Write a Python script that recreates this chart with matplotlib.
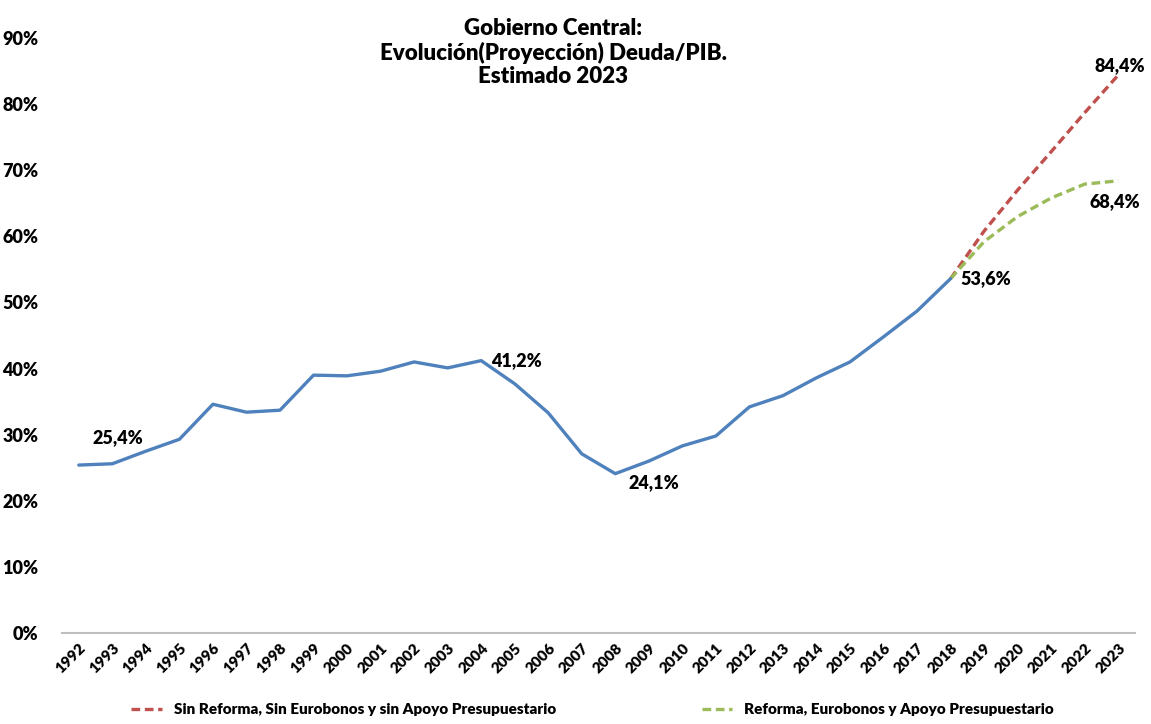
import numpy as np
import matplotlib
matplotlib.use('Agg')
import matplotlib.pyplot as plt
from matplotlib.ticker import FuncFormatter

plt.rcParams['font.family'] = ['Lato', 'DejaVu Sans']

# Historical debt / GDP (%)
years = [str(y) for y in range(1992, 2024)]
hist_years = list(range(1992, 2019))
hist = [25.4, 25.6, 27.5, 29.3, 34.6, 33.4, 33.7, 39.0, 38.9, 39.6, 41.0, 40.1,
        41.2, 37.7, 33.3, 27.1, 24.1, 26.0, 28.3, 29.8, 34.2, 35.9, 38.6, 41.0,
        44.8, 48.7, 53.6]

# Projections 2018-2023
proj_years = list(range(2018, 2024))
sin_reforma = [53.6, 60.8, 67.0, 72.8, 78.7, 84.4]
con_reforma = [53.6, 59.2, 63.0, 65.8, 67.9, 68.4]

blue = '#4F81BD'
red = '#C0504D'
green = '#9BBB59'

fig = plt.figure(figsize=(11.51, 7.24), dpi=100)
ax = fig.add_axes([0.0539, 0.1257, 0.9322, 0.8218])

xh = [y - 1992 for y in hist_years]
xp = [y - 1992 for y in proj_years]
ax.plot(xh, hist, color=blue, lw=2.4, solid_capstyle='round', zorder=3)
ax.plot(xp, sin_reforma, color=red, lw=2.4, ls=(0, (2.6, 1.4)),
        label='Sin Reforma, Sin Eurobonos y sin Apoyo Presupuestario')
ax.plot(xp, con_reforma, color=green, lw=2.4, ls=(0, (2.6, 1.4)),
        label='Reforma, Eurobonos y Apoyo Presupuestario')

ax.set_xlim(-0.5, len(years) - 0.5)
ax.set_ylim(0, 90)
ax.set_yticks(np.arange(0, 91, 10))
ax.yaxis.set_major_formatter(FuncFormatter(lambda v, p: f'{v:.0f}%'))
ax.set_xticks(range(len(years)))
ax.set_xticklabels(years, rotation=45, ha='right', va='top',
                   rotation_mode='anchor', fontsize=11, fontweight='heavy')
for lab in ax.get_yticklabels():
    lab.set_fontweight('heavy')
    lab.set_fontsize(13)
ax.tick_params(axis='both', length=0)
ax.tick_params(axis='y', pad=17)
ax.tick_params(axis='x', pad=6)

for s in ['top', 'right', 'left']:
    ax.spines[s].set_visible(False)
ax.spines['bottom'].set_color('#BFBFBF')
ax.spines['bottom'].set_linewidth(1.5)

# Data labels
lab_kw = dict(fontsize=13, fontweight='heavy', color='black')
ax.text(0.4, 29.6, '25,4%', ha='left', va='center', **lab_kw)
ax.text(12.3, 41.2, '41,2%', ha='left', va='center', **lab_kw)
ax.text(16.4, 24.1, '24,1%', ha='left', va='top', **lab_kw)
ax.text(26.3, 53.6, '53,6%', ha='left', va='center', **lab_kw)
ax.text(31.05, 84.6, '84,4%', ha='center', va='bottom', **lab_kw)
ax.text(30.9, 66.5, '68,4%', ha='center', va='top', **lab_kw)

fig.text(0.4805, 0.975, 'Gobierno Central:\nEvolución(Proyección) Deuda/PIB.\nEstimado 2023',
         ha='center', va='top', fontsize=16, fontweight='heavy', linespacing=1.15)

fig.legend(loc='lower center', bbox_to_anchor=(0.515, -0.008), ncol=2,
           frameon=False, handlelength=2.0, columnspacing=9.5,
           prop={'weight': 'heavy', 'size': 11})

fig.savefig('out.png', dpi=100)
